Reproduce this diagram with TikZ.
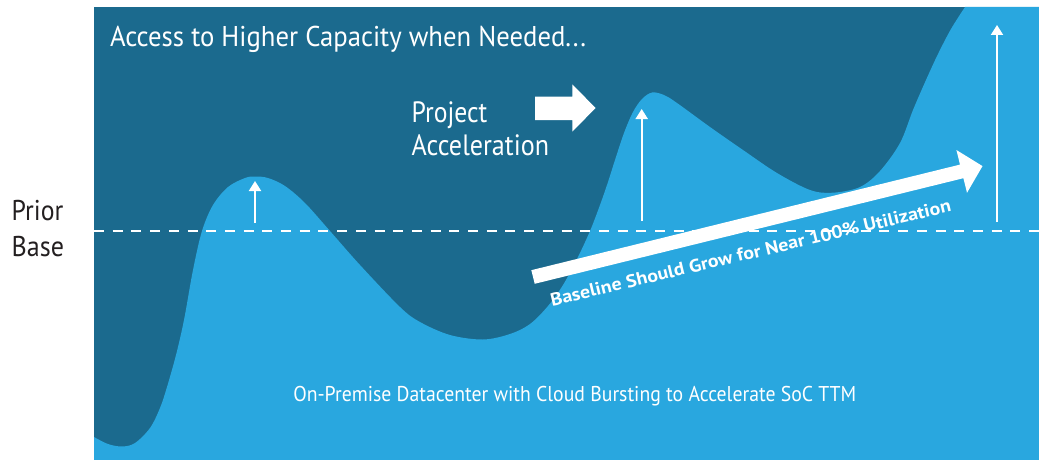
\documentclass[tikz,border=0pt]{standalone}
\usepackage{fontspec}
\setmainfont{PT Sans}
\usepackage{graphicx}
\usetikzlibrary{arrows.meta}
\definecolor{darkblue}{HTML}{1B6A8E}
\definecolor{lightblue}{HTML}{29A7DF}
\definecolor{labelgray}{HTML}{231F20}
\newcommand{\fitw}[2]{\resizebox{#1}{\height}{#2}}
\begin{document}
\begin{tikzpicture}[x=1pt,y=-1pt,
  txt/.style={inner sep=0pt, outer sep=0pt, anchor=base west, text=white},
  upar/.style={draw=white, line width=2pt, -{Triangle[length=10pt,width=12pt]}},
  baseline line/.style={draw=white, line width=2pt, dash pattern=on 10pt off 8.7pt, dash phase=0pt},
  blockarrow/.style={fill=white}
]
\useasboundingbox (0,0) rectangle (1039,460);
\fill[white] (0,0) rectangle (1039,460);
% panel
\fill[darkblue] (94,7) rectangle (1039,460);
% on-premise / burst area
\fill[lightblue] plot[smooth, tension=0.55] coordinates {
 (94,437) (108,444) (122,446.5) (135,443) (150,428) (160,408) (167,387) (176,355)
 (184,320) (193,270) (202,231) (213,205) (228,187) (245,178) (255,176.5) (268,178)
 (285,186) (305,203) (330,231) (360,265) (400,307) (420,322) (450,335) (483,339.5)
 (510,334) (530,324) (548,306) (563,285) (577,259) (590,231) (600,205) (608,182)
 (615,160) (624,133) (633,112) (642,99) (652,92.5) (664,95) (677,103) (710,127)
 (743,150) (777,173) (810,190) (833,192.7) (860,187) (880,171) (900,143) (913,110)
 (926,80) (938,54) (951,29) (965,7)}
 -- (1039,7) -- (1039,460) -- (94,460) -- cycle;
% prior base line
\coordinate (dl) at (94,231);
\coordinate (dr) at (1039,231);
\draw[baseline line] (dl) -- (dr);
% up arrows
\coordinate (a1s) at (255,223); \coordinate (a1e) at (255,181);
\coordinate (a2s) at (641.7,221); \coordinate (a2e) at (641.7,109);
\coordinate (a3s) at (997,222); \coordinate (a3e) at (997,25);
\draw[upar] (a1s) -- (a1e);
\draw[upar] (a2s) -- (a2e);
\draw[upar] (a3s) -- (a3e);
% project acceleration block arrow
\fill[blockarrow] (535,96.5) -- (572.3,96.5) -- (572.3,84.5) -- (595.7,108) -- (572.3,131.5) -- (572.3,120) -- (535,120) -- cycle;
% baseline growth arrow
\fill[blockarrow] (531.3,270.2) -- (960,164.6) -- (956.4,150) -- (982.5,166.1) -- (967,192.8) -- (963.4,178.2) -- (534.7,283.8) -- cycle;
% texts
\node[txt] (title) at (110,46.7) {\fontsize{28.6}{30}\selectfont\fitw{476pt}{Access to Higher Capacity when Needed...}};
\node[txt, text=labelgray] (prior) at (11.7,220) {\fontsize{28.6}{30}\selectfont\fitw{51.6pt}{Prior}};
\node[txt, text=labelgray] (base) at (11.7,256) {\fontsize{28.6}{30}\selectfont\fitw{52.3pt}{Base}};
\node[txt] (proj) at (411.7,122.3) {\fontsize{29.4}{30}\selectfont\fitw{75.7pt}{Project}};
\node[txt] (accel) at (411.7,155.5) {\fontsize{29.4}{30}\selectfont\fitw{137.3pt}{Acceleration}};
\node[txt] (onprem) at (293.3,401.7) {\fontsize{21.4}{24}\selectfont\fitw{563pt}{On-Premise Datacenter with Cloud Bursting to Accelerate SoC TTM}};
\node[txt, rotate=13.3] (grow) at (552,306) {\fontsize{18}{20}\selectfont\bfseries\fitw{411pt}{Baseline Should Grow for Near 100\% Utilization}};
\end{tikzpicture}
\end{document}
